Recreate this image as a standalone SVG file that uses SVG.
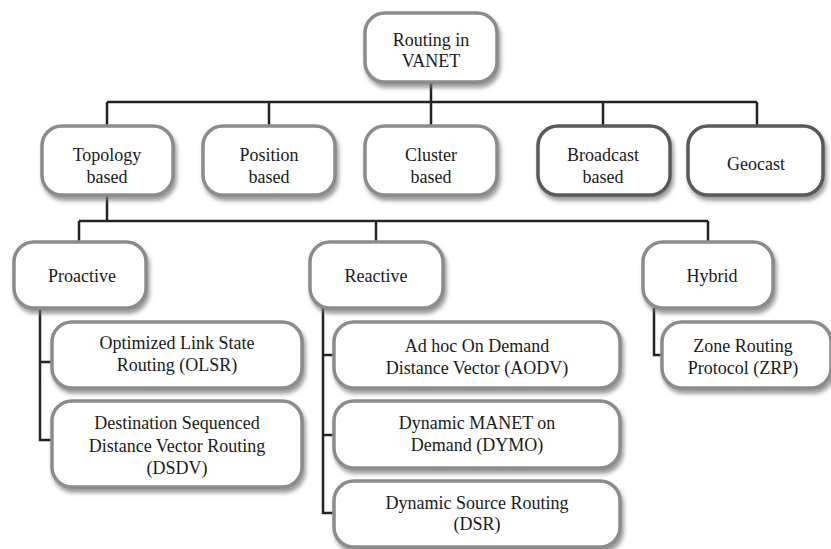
<svg xmlns="http://www.w3.org/2000/svg" width="831" height="549" viewBox="0 0 831 549">
<defs>
<filter id="sh" x="-10%" y="-10%" width="125%" height="135%">
<feDropShadow dx="2" dy="4" stdDeviation="2.2" flood-color="#777" flood-opacity="0.75"/>
</filter>
<style>
.b{fill:#fff;stroke:#8c8c8c;stroke-width:3.5;filter:url(#sh)}
.d{fill:#fff;stroke:#5a5a5a;stroke-width:3.5;filter:url(#sh)}
.t{font-family:"Liberation Serif","DejaVu Serif",serif;font-size:18px;fill:#1a1a1a;text-anchor:middle}
.c{fill:none;stroke:#222;stroke-width:2.5}
</style>
</defs>
<rect width="831" height="549" fill="#fff"/>
<g id="connectors">
<path class="c" d="M431 82V102M107 102H757M107 102V126M269 102V126M431 102V126M603 102V126M757 102V126"/>
<path class="c" d="M107 195V221M79 221H708M79 221V242M376 221V242M708 221V242"/>
<path class="c" d="M40 308V440H53M40 362H53"/>
<path class="c" d="M323 308V513H335M323 355H335M323 435H335"/>
<path class="c" d="M654 308V355H663"/>
</g>
<g id="root"><rect class="b" x="365" y="13" width="132" height="69" rx="20"/>
<text class="t" x="431" y="46">Routing in</text><text class="t" x="431" y="67">VANET</text></g>
<g id="topology"><rect class="b" x="42" y="126" width="131" height="69" rx="20"/>
<text class="t" x="107" y="161">Topology</text><text class="t" x="107" y="183">based</text></g>
<g id="position"><rect class="b" x="203" y="126" width="132" height="69" rx="20"/>
<text class="t" x="269" y="161">Position</text><text class="t" x="269" y="183">based</text></g>
<g id="cluster"><rect class="b" x="365" y="126" width="132" height="69" rx="20"/>
<text class="t" x="431" y="161">Cluster</text><text class="t" x="431" y="183">based</text></g>
<g id="broadcast"><rect class="d" x="538" y="126" width="132" height="69" rx="20"/>
<text class="t" x="603" y="161">Broadcast</text><text class="t" x="603" y="183">based</text></g>
<g id="geocast"><rect class="d" x="688" y="126" width="135" height="69" rx="20"/>
<text class="t" x="756" y="170">Geocast</text></g>
<g id="proactive"><rect class="b" x="14" y="242" width="132" height="66" rx="20"/>
<text class="t" x="82" y="282">Proactive</text></g>
<g id="reactive"><rect class="b" x="310" y="242" width="133" height="66" rx="20"/>
<text class="t" x="376" y="282">Reactive</text></g>
<g id="hybrid"><rect class="b" x="643" y="242" width="130" height="66" rx="20"/>
<text class="t" x="712" y="282">Hybrid</text></g>
<g id="olsr"><rect class="b" x="52" y="322" width="250" height="66" rx="20"/>
<text class="t" x="177" y="349">Optimized Link State</text><text class="t" x="177" y="371">Routing (OLSR)</text></g>
<g id="dsdv"><rect class="b" x="52" y="401" width="250" height="86" rx="20"/>
<text class="t" x="177" y="429">Destination Sequenced</text><text class="t" x="177" y="452">Distance Vector Routing</text><text class="t" x="177" y="474">(DSDV)</text></g>
<g id="aodv"><rect class="b" x="334" y="322" width="286" height="66" rx="20"/>
<text class="t" x="477" y="352">Ad hoc On Demand</text><text class="t" x="477" y="374">Distance Vector (AODV)</text></g>
<g id="dymo"><rect class="b" x="334" y="401" width="286" height="67" rx="20"/>
<text class="t" x="477" y="429">Dynamic MANET on</text><text class="t" x="477" y="451">Demand (DYMO)</text></g>
<g id="dsr"><rect class="b" x="334" y="481" width="286" height="66" rx="20"/>
<text class="t" x="477" y="509">Dynamic Source Routing</text><text class="t" x="477" y="530">(DSR)</text></g>
<g id="zrp"><rect class="b" x="662" y="322" width="169" height="66" rx="20"/>
<text class="t" x="743" y="352">Zone Routing</text><text class="t" x="743" y="374">Protocol (ZRP)</text></g>
</svg>
